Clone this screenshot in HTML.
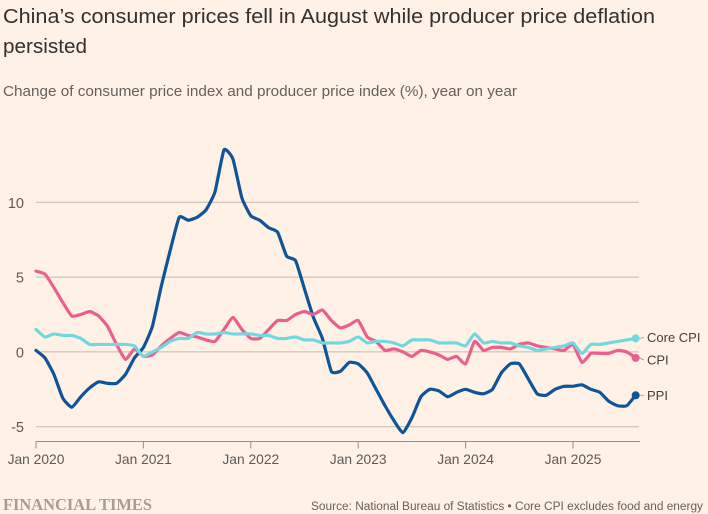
<!DOCTYPE html>
<html lang="en">
<head>
<meta charset="utf-8">
<title>China consumer and producer prices</title>
<style>
html,body{margin:0;padding:0;background:#fff1e5;}
body{width:708px;height:514px;overflow:hidden;font-family:"Liberation Sans",sans-serif;}
svg{display:block;}
text{font-family:"Liberation Sans",sans-serif;}
</style>
</head>
<body>
<svg id="chart" width="708" height="514" viewBox="0 0 708 514" xmlns="http://www.w3.org/2000/svg">
  <rect width="708" height="514" fill="#fff1e5"/>
  <text x="3" y="23" font-size="20" fill="#33302e" textLength="652" lengthAdjust="spacingAndGlyphs">China’s consumer prices fell in August while producer price deflation</text>
  <text x="3" y="53" font-size="20" fill="#33302e" textLength="84" lengthAdjust="spacingAndGlyphs">persisted</text>
  <text x="3" y="96" font-size="14.5" fill="#66605c" textLength="514" lengthAdjust="spacingAndGlyphs">Change of consumer price index and producer price index (%), year on year</text>
  <g id="grid"></g>
  <g id="xaxis"></g>
  <g id="series"></g>
  <g id="labels"></g>
  <text x="3" y="510" font-size="16.5" font-weight="bold" fill="#a89c93" style="font-family:'Liberation Serif',serif" textLength="149" lengthAdjust="spacingAndGlyphs">FINANCIAL TIMES</text>
  <text x="703" y="510" font-size="11.5" fill="#66605c" text-anchor="end" textLength="392" lengthAdjust="spacingAndGlyphs">Source: National Bureau of Statistics • Core CPI excludes food and energy</text>
</svg>
<script>
const yTicks = [10, 5, 0, -5];
const xTickLabels = ["Jan 2020", "Jan 2021", "Jan 2022", "Jan 2023", "Jan 2024", "Jan 2025"];
const xTickMonths = [0, 12, 24, 36, 48, 60];
const ppiValues = [0.1,-0.4,-1.5,-3.1,-3.7,-3.0,-2.4,-2.0,-2.1,-2.1,-1.5,-0.4,
  0.3,1.7,4.4,6.8,9.0,8.8,9.0,9.5,10.7,13.5,12.9,10.3,
  9.1,8.8,8.3,8.0,6.4,6.1,4.2,2.3,0.9,-1.3,-1.3,-0.7,
  -0.8,-1.4,-2.5,-3.6,-4.6,-5.4,-4.4,-3.0,-2.5,-2.6,-3.0,-2.7,
  -2.5,-2.7,-2.8,-2.5,-1.4,-0.8,-0.8,-1.8,-2.8,-2.9,-2.5,-2.3,
  -2.3,-2.2,-2.5,-2.7,-3.3,-3.6,-3.6,-2.9];
const cpiValues = [5.4,5.2,4.3,3.3,2.4,2.5,2.7,2.4,1.7,0.5,-0.5,0.2,
  -0.3,-0.2,0.4,0.9,1.3,1.1,1.0,0.8,0.7,1.5,2.3,1.5,
  0.9,0.9,1.5,2.1,2.1,2.5,2.7,2.5,2.8,2.1,1.6,1.8,
  2.1,1.0,0.7,0.1,0.2,0.0,-0.3,0.1,0.0,-0.2,-0.5,-0.3,
  -0.8,0.7,0.1,0.3,0.3,0.2,0.5,0.6,0.4,0.3,0.2,0.1,
  0.5,-0.7,-0.1,-0.1,-0.1,0.1,0.0,-0.4];
const coreValues = [1.5,1.0,1.2,1.1,1.1,0.9,0.5,0.5,0.5,0.5,0.5,0.4,
  -0.3,0.0,0.3,0.7,0.9,0.9,1.3,1.2,1.2,1.3,1.2,1.2,
  1.2,1.1,1.1,0.9,0.9,1.0,0.8,0.8,0.6,0.6,0.6,0.7,
  1.0,0.6,0.7,0.7,0.6,0.4,0.8,0.8,0.8,0.6,0.6,0.6,
  0.4,1.2,0.6,0.7,0.6,0.6,0.4,0.3,0.1,0.2,0.3,0.4,
  0.6,-0.1,0.5,0.5,0.6,0.7,0.8,0.9];

const NS = "http://www.w3.org/2000/svg";
function xScale(month){ return 36 + month * 8.95; }
function yScale(v){ return 351.9 - v * 14.96; }
function make(tag, attrs, parent, content){
  const el = document.createElementNS(NS, tag);
  for (const k in attrs) el.setAttribute(k, attrs[k]);
  if (content !== undefined) el.textContent = content;
  parent.appendChild(el);
  return el;
}
function smoothPath(vals){
  const pts = vals.map((v, i) => [xScale(i), yScale(v)]);
  const t = 0.08;
  let d = "M" + pts[0][0].toFixed(2) + "," + pts[0][1].toFixed(2);
  for (let i = 0; i < pts.length - 1; i++){
    const p0 = pts[Math.max(i - 1, 0)], p1 = pts[i], p2 = pts[i + 1], p3 = pts[Math.min(i + 2, pts.length - 1)];
    const c1x = p1[0] + (p2[0] - p0[0]) * t, c1y = p1[1] + (p2[1] - p0[1]) * t;
    const c2x = p2[0] - (p3[0] - p1[0]) * t, c2y = p2[1] - (p3[1] - p1[1]) * t;
    d += "C" + c1x.toFixed(2) + "," + c1y.toFixed(2) + " " + c2x.toFixed(2) + "," + c2y.toFixed(2) + " " + p2[0].toFixed(2) + "," + p2[1].toFixed(2);
  }
  return d;
}

const grid = document.getElementById("grid");
yTicks.forEach(function(v){
  const line = make("line", {x1: 36, x2: 639, y1: yScale(v), y2: yScale(v), stroke: "#c6b9ae", "stroke-width": 1}, grid);
  
  
  const label = make("text", {x: 24, y: yScale(v) + 5.5, "font-size": 14.5, fill: "#5f5955", "text-anchor": "end"}, grid, String(v));
  
  
});

const xaxis = document.getElementById("xaxis");
const axisLine = make("line", {x1: 36, x2: 640, y1: 441.5, y2: 441.5, stroke: "#9a8e85", "stroke-width": 1}, xaxis);


xTickLabels.forEach(function(name, i){
  const x = xScale(xTickMonths[i]);
  const tick = make("line", {x1: x, x2: x, y1: 441.5, y2: 448.5, stroke: "#9a8e85", "stroke-width": 1}, xaxis);
  
  
  const label = make("text", {x: x, y: 464, "font-size": 13.8, fill: "#5f5955", "text-anchor": "middle"}, xaxis, name);
  
  
});

const seriesGroup = document.getElementById("series");
const labelGroup = document.getElementById("labels");
function drawSeries(vals, color, labelText, labelY, lineName, dotName, textName){
  const last = vals.length - 1;
  const path = make("path", {d: smoothPath(vals), fill: "none", stroke: color, "stroke-width": 3.2, "stroke-linejoin": "round", "stroke-linecap": "round"}, seriesGroup);
  
  
  const ey = yScale(vals[last]);
  const conn = make("line", {x1: xScale(last) + 4, y1: ey, x2: 644, y2: labelY, stroke: "#b3a89f", "stroke-width": 1}, labelGroup);
  
  
  const dot = make("circle", {cx: xScale(last), cy: ey, r: 4, fill: color}, labelGroup);
  
  
  const text = make("text", {x: 647, y: labelY + 4.5, "font-size": 13, fill: "#45413e"}, labelGroup, labelText);
  
  
}
drawSeries(ppiValues, "#0f5499", "PPI", 395.5, "ppi-line", "ppi-end-dot", "ppi-label");
drawSeries(cpiValues, "#ea5f8c", "CPI", 360, "cpi-line", "cpi-end-dot", "cpi-label");
drawSeries(coreValues, "#72d8df", "Core CPI", 337.5, "core-cpi-line", "core-cpi-end-dot", "core-cpi-label");
</script>
</body>
</html>
